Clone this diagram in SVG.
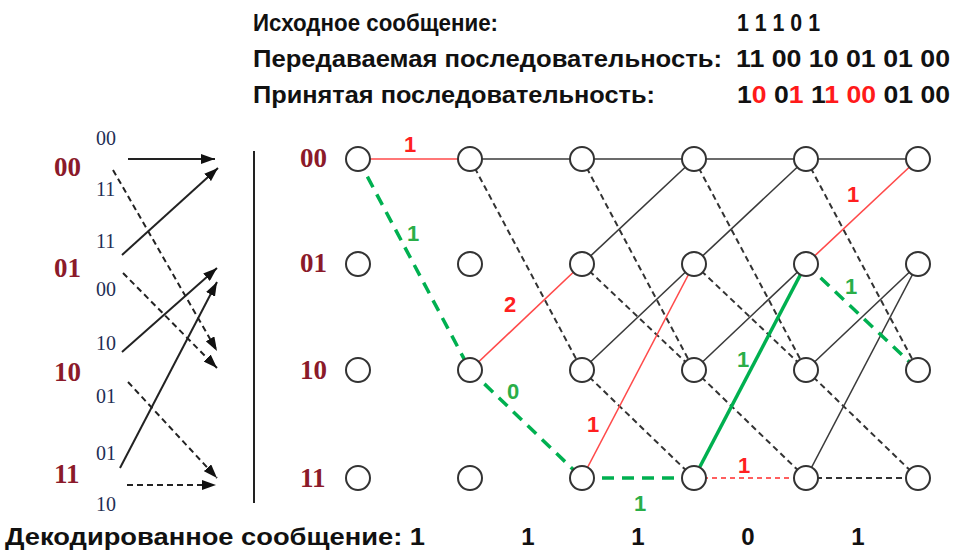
<svg xmlns="http://www.w3.org/2000/svg" width="954" height="550" viewBox="0 0 954 550">
<style>
  .hdr{font-family:"Liberation Sans",Arial,sans-serif;font-weight:bold;font-size:24px;fill:#111}
  .red-t{fill:#ff1a1a}
  .row{font-family:"Liberation Serif","Times New Roman",serif;font-weight:bold;font-size:27px;fill:#8b1a2a}
  .sm{font-family:"Liberation Serif","Times New Roman",serif;font-size:20px;fill:#1f2f55}
  .el{font-family:"Liberation Sans",Arial,sans-serif;font-weight:bold;font-size:22px;text-anchor:middle}
  .elr{fill:#ff2020}
  .elg{fill:#2aae48}
  .ln{stroke:#222;stroke-width:2;fill:none}
  .lnd{stroke:#222;stroke-width:2;fill:none;stroke-dasharray:6 4}
  .sol{stroke:#3a3a3a;stroke-width:1.6;fill:none}
  .dsh{stroke:#333;stroke-width:2;fill:none;stroke-dasharray:6 4}
  .red{stroke:#ff4a4a;stroke-width:1.6;fill:none}
  .redd{stroke:#ff2a2a;stroke-width:1.6;fill:none;stroke-dasharray:5 4}
  .grn{stroke:#00b050;stroke-width:3.5;fill:none}
  .grnd{stroke:#00b050;stroke-width:3.5;fill:none;stroke-dasharray:12 8}
  .nd{fill:#fff;stroke:#333;stroke-width:2}
</style>
<defs>
  <marker id="ah" markerWidth="14" markerHeight="10" refX="14" refY="5" orient="auto" markerUnits="userSpaceOnUse">
    <path d="M0,0 L14,5 L0,10 Z" fill="#111"/>
  </marker>
</defs>

<!-- header -->
<g id="header">
  <text class="hdr" x="253" y="31" textLength="245" lengthAdjust="spacingAndGlyphs">Исходное сообщение:</text>
  <text class="hdr" x="737" y="31" textLength="83" lengthAdjust="spacingAndGlyphs">1 1 1 0 1</text>
  <text class="hdr" x="253" y="67" textLength="469" lengthAdjust="spacingAndGlyphs">Передаваемая последовательность:</text>
  <text class="hdr" x="736" y="67" textLength="214" lengthAdjust="spacingAndGlyphs">11 00 10 01 01 00</text>
  <text class="hdr" x="253" y="103" textLength="402" lengthAdjust="spacingAndGlyphs">Принятая последовательность:</text>
  <text class="hdr" x="737" y="103" textLength="213" lengthAdjust="spacingAndGlyphs">1<tspan class="red-t">0</tspan> 0<tspan class="red-t">1</tspan> 1<tspan class="red-t">1</tspan> <tspan class="red-t">00</tspan> 01 00</text>
</g>

<!-- left state diagram -->
<g id="state-diagram">
  <text class="row" x="54" y="176">00</text>
  <text class="row" x="54" y="277">01</text>
  <text class="row" x="54" y="381">10</text>
  <text class="row" x="54" y="483">11</text>
  <text class="sm" x="96" y="145">00</text>
  <text class="sm" x="96" y="196">11</text>
  <text class="sm" x="96" y="248">11</text>
  <text class="sm" x="96" y="296">00</text>
  <text class="sm" x="96" y="350">10</text>
  <text class="sm" x="96" y="403">01</text>
  <text class="sm" x="96" y="460">01</text>
  <text class="sm" x="96" y="511">10</text>
  <g id="state-arrows">
    <line class="ln" x1="128" y1="159" x2="215" y2="159" marker-end="url(#ah)"/>
    <line class="lnd" x1="113" y1="170" x2="217" y2="351" marker-end="url(#ah)"/>
    <line class="ln" x1="122" y1="255" x2="218" y2="168" marker-end="url(#ah)"/>
    <line class="lnd" x1="123" y1="273" x2="217" y2="368" marker-end="url(#ah)"/>
    <line class="ln" x1="122" y1="352" x2="217" y2="268" marker-end="url(#ah)"/>
    <line class="lnd" x1="128" y1="382" x2="217" y2="478" marker-end="url(#ah)"/>
    <line class="ln" x1="120" y1="468" x2="217" y2="282" marker-end="url(#ah)"/>
    <line class="lnd" x1="127" y1="485" x2="216" y2="485" marker-end="url(#ah)"/>
  </g>
  <line class="ln" x1="254" y1="151" x2="254" y2="503"/>
</g>

<!-- trellis row labels -->
<g id="trellis-labels">
  <text class="row" x="300" y="167">00</text>
  <text class="row" x="300" y="272">01</text>
  <text class="row" x="300" y="379">10</text>
  <text class="row" x="300" y="487">11</text>
</g>

<!-- connectors -->
<g id="connectors">
  <line class="sol" x1="470" y1="159" x2="582" y2="159"/>
  <line class="dsh" x1="470" y1="159" x2="582" y2="370"/>
  <line class="sol" x1="582" y1="159" x2="694" y2="159"/>
  <line class="dsh" x1="582" y1="159" x2="694" y2="370"/>
  <line class="sol" x1="582" y1="264" x2="694" y2="159"/>
  <line class="dsh" x1="582" y1="264" x2="694" y2="370"/>
  <line class="sol" x1="582" y1="370" x2="694" y2="264"/>
  <line class="dsh" x1="582" y1="370" x2="694" y2="478"/>
  <line class="sol" x1="694" y1="159" x2="806" y2="159"/>
  <line class="dsh" x1="694" y1="159" x2="806" y2="370"/>
  <line class="sol" x1="694" y1="264" x2="806" y2="159"/>
  <line class="dsh" x1="694" y1="264" x2="806" y2="370"/>
  <line class="sol" x1="694" y1="370" x2="806" y2="264"/>
  <line class="dsh" x1="694" y1="370" x2="806" y2="478"/>
  <line class="sol" x1="806" y1="159" x2="918" y2="159"/>
  <line class="dsh" x1="806" y1="159" x2="918" y2="370"/>
  <line class="sol" x1="806" y1="370" x2="918" y2="264"/>
  <line class="dsh" x1="806" y1="370" x2="918" y2="478"/>
  <line class="sol" x1="806" y1="478" x2="918" y2="264"/>
  <line class="dsh" x1="806" y1="478" x2="918" y2="478"/>
  <line class="red" x1="358" y1="159" x2="470" y2="159"/>
  <line class="red" x1="470" y1="370" x2="582" y2="264"/>
  <line class="red" x1="582" y1="478" x2="694" y2="264"/>
  <line class="redd" x1="694" y1="478" x2="806" y2="478"/>
  <line class="red" x1="806" y1="264" x2="918" y2="159"/>
  <line class="grnd" x1="358" y1="159" x2="470" y2="370"/>
  <line class="grnd" x1="470" y1="370" x2="582" y2="478"/>
  <line class="grnd" x1="582" y1="478" x2="694" y2="478"/>
  <line class="grn" x1="694" y1="478" x2="806" y2="264"/>
  <line class="grnd" x1="806" y1="264" x2="918" y2="370"/>
</g>

<!-- nodes -->
<g id="nodes">
  <g id="n0-00"><circle class="nd" cx="358" cy="159" r="12"/></g>
  <g id="n0-01"><circle class="nd" cx="358" cy="264" r="12"/></g>
  <g id="n0-10"><circle class="nd" cx="358" cy="370" r="12"/></g>
  <g id="n0-11"><circle class="nd" cx="358" cy="478" r="12"/></g>
  <g id="n1-00"><circle class="nd" cx="470" cy="159" r="12"/></g>
  <g id="n1-01"><circle class="nd" cx="470" cy="264" r="12"/></g>
  <g id="n1-10"><circle class="nd" cx="470" cy="370" r="12"/></g>
  <g id="n1-11"><circle class="nd" cx="470" cy="478" r="12"/></g>
  <g id="n2-00"><circle class="nd" cx="582" cy="159" r="12"/></g>
  <g id="n2-01"><circle class="nd" cx="582" cy="264" r="12"/></g>
  <g id="n2-10"><circle class="nd" cx="582" cy="370" r="12"/></g>
  <g id="n2-11"><circle class="nd" cx="582" cy="478" r="12"/></g>
  <g id="n3-00"><circle class="nd" cx="694" cy="159" r="12"/></g>
  <g id="n3-01"><circle class="nd" cx="694" cy="264" r="12"/></g>
  <g id="n3-10"><circle class="nd" cx="694" cy="370" r="12"/></g>
  <g id="n3-11"><circle class="nd" cx="694" cy="478" r="12"/></g>
  <g id="n4-00"><circle class="nd" cx="806" cy="159" r="12"/></g>
  <g id="n4-01"><circle class="nd" cx="806" cy="264" r="12"/></g>
  <g id="n4-10"><circle class="nd" cx="806" cy="370" r="12"/></g>
  <g id="n4-11"><circle class="nd" cx="806" cy="478" r="12"/></g>
  <g id="n5-00"><circle class="nd" cx="918" cy="159" r="12"/></g>
  <g id="n5-01"><circle class="nd" cx="918" cy="264" r="12"/></g>
  <g id="n5-10"><circle class="nd" cx="918" cy="370" r="12"/></g>
  <g id="n5-11"><circle class="nd" cx="918" cy="478" r="12"/></g>
</g>

<!-- edge labels -->
<g id="edge-labels">
  <text class="el elr" x="410" y="152">1</text>
  <text class="el elg" x="413" y="241">1</text>
  <text class="el elr" x="510" y="312">2</text>
  <text class="el elg" x="513" y="399">0</text>
  <text class="el elr" x="593" y="432">1</text>
  <text class="el elg" x="640" y="511">1</text>
  <text class="el elg" x="743" y="367">1</text>
  <text class="el elr" x="744" y="473">1</text>
  <text class="el elr" x="853" y="202">1</text>
  <text class="el elg" x="851" y="294">1</text>
</g>

<!-- decoded message -->
<g id="decoded">
  <text class="hdr" x="5" y="545" textLength="420" lengthAdjust="spacingAndGlyphs">Декодированное сообщение: 1</text>
  <text class="hdr" x="528" y="545" text-anchor="middle">1</text>
  <text class="hdr" x="638" y="545" text-anchor="middle">1</text>
  <text class="hdr" x="748" y="545" text-anchor="middle">0</text>
  <text class="hdr" x="858" y="545" text-anchor="middle">1</text>
</g>
</svg>
